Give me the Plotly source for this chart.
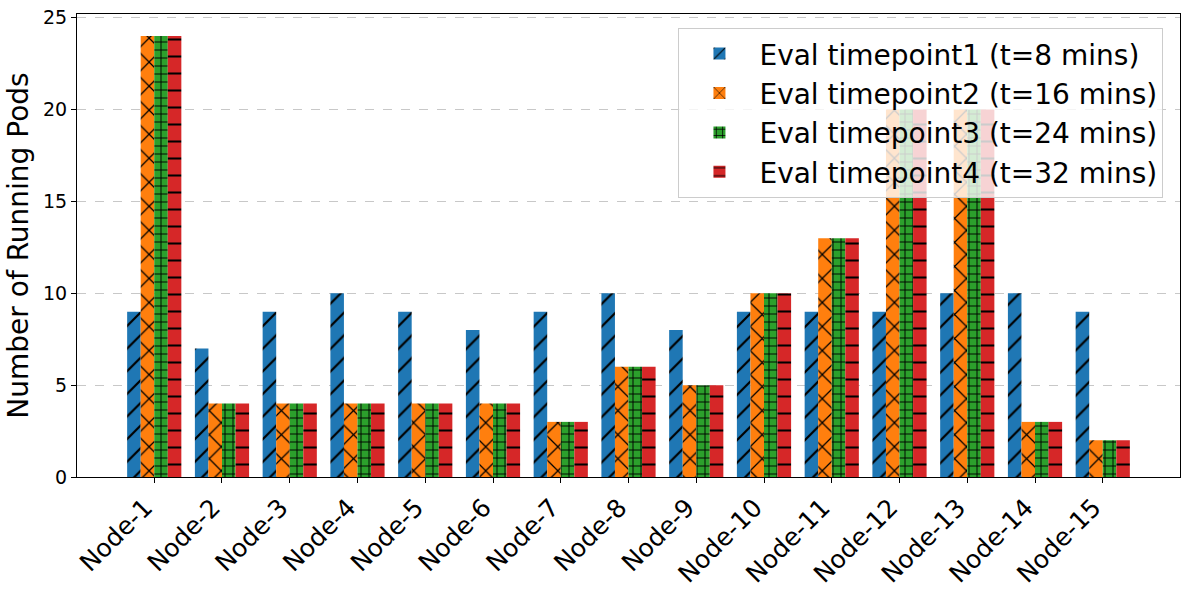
import plotly.graph_objects as go

nodes = [f"Node-{i}" for i in range(1, 16)]
series_names = [
    "Eval timepoint1 (t=8 mins)",
    "Eval timepoint2 (t=16 mins)",
    "Eval timepoint3 (t=24 mins)",
    "Eval timepoint4 (t=32 mins)",
]
tp1 = [9, 7, 9, 10, 9, 8, 9, 10, 8, 9, 9, 9, 10, 10, 9]
tp2 = [24, 4, 4, 4, 4, 4, 3, 6, 5, 10, 13, 20, 20, 3, 2]
tp3 = [24, 4, 4, 4, 4, 4, 3, 6, 5, 10, 13, 20, 20, 3, 2]
tp4 = [24, 4, 4, 4, 4, 4, 3, 6, 5, 10, 13, 20, 20, 3, 2]
y_ticks = [0, 5, 10, 15, 20, 25]

colors = ["#1f77b4", "#ff7f0e", "#2ca02c", "#d62728"]
shapes = ["/", "x", "+", "-"]
sizes = [16, 17, 8, 17]
solid = [0.14, 0.14, 0.22, 0.12]

fig = go.Figure()
for name, vals, c, sh, sz, so in zip(series_names, [tp1, tp2, tp3, tp4], colors, shapes, sizes, solid):
    fig.add_trace(go.Bar(
        x=nodes, y=vals, name=name,
        marker=dict(color=c, line=dict(width=0),
                    pattern=dict(shape=sh, size=sz, solidity=so, fgcolor="black", fgopacity=1)),
    ))

fig.update_layout(
    width=1189, height=589,
    margin=dict(l=77, r=9, t=14, b=112),
    barmode="group", bargap=0.2, bargroupgap=0,
    plot_bgcolor="white", paper_bgcolor="white",
    font=dict(family="DejaVu Sans", color="black"),
    showlegend=True,
    legend=dict(
        x=0.985, y=0.97, xanchor="right", yanchor="top",
        bgcolor="rgba(255,255,255,0.8)", bordercolor="#cccccc", borderwidth=1,
        font=dict(size=28), itemwidth=70, tracegroupgap=6,
    ),
    xaxis=dict(
        range=[-1.14, 15.14], tickangle=-45, tickfont=dict(size=25),
        showline=True, linecolor="black", linewidth=1, mirror=True,
        ticks="outside", ticklen=5, tickcolor="black", showgrid=False,
        automargin=False, ticklabelshift=-9,
    ),
    yaxis=dict(
        range=[0, 25.2], tickvals=y_ticks, tickfont=dict(size=19),
        title=dict(text="Number of Running Pods", font=dict(size=28), standoff=6),
        showline=True, linecolor="black", linewidth=1, mirror=True,
        ticks="outside", ticklen=5, tickcolor="black",
        showgrid=True, gridcolor="#c8c8c8", griddash="dash", gridwidth=1,
        zeroline=False, automargin=False,
    ),
)

fig.write_html("out.html", config={"displayModeBar": False},
               post_script="document.body.style.margin='0';document.body.style.overflow='hidden';")
